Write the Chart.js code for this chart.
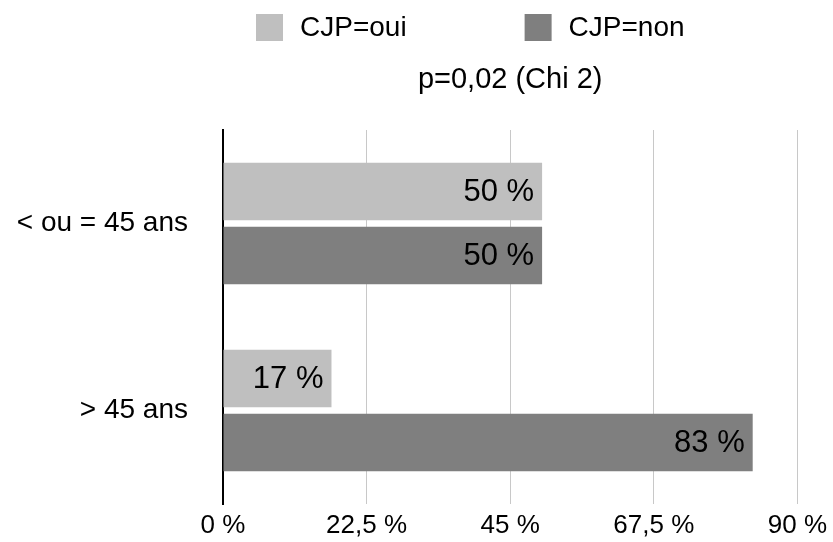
<!DOCTYPE html>
<html>
<head>
<meta charset="utf-8">
<script src="https://cdn.jsdelivr.net/npm/chart.js@4"></script>
<style>
  html, body { margin: 0; padding: 0; background: #fff; }
  #wrap { width: 833px; height: 542px; }
</style>
</head>
<body>
<div id="wrap"><canvas id="chart"></canvas></div>
<script>
const categories = ['< ou = 45 ans', '> 45 ans'];
const seriesNames = ['CJP=oui', 'CJP=non'];
const cjpOui = [50, 17];
const cjpNon = [50, 83];
const tickLabels = ['0 %', '22,5 %', '45 %', '67,5 %', '90 %'];
const subtitle = 'p=0,02 (Chi 2)';

const FONT = '"Liberation Sans", Arial, Helvetica, sans-serif';
const COLORS = ['#bfbfbf', '#7f7f7f'];

// legend drawn by hand so the two items sit where the original has them
const legendPlugin = {
  id: 'legendBoxes',
  afterDraw(chart) {
    const ctx = chart.ctx;
    let x = 256;
    const y = 28;
    ctx.save();
    ctx.font = '28px ' + FONT;
    ctx.textBaseline = 'middle';
    ctx.textAlign = 'left';
    chart.data.datasets.forEach((ds) => {
      ctx.fillStyle = ds.backgroundColor;
      ctx.fillRect(x, y - 14, 27, 27);
      ctx.fillStyle = '#000';
      ctx.fillText(ds.label, x + 44, y);
      x += 44 + ctx.measureText(ds.label).width + 118;
    });
    ctx.restore();
  }
};

// value labels inside the end of every bar
const barLabels = {
  id: 'barLabels',
  afterDatasetsDraw(chart) {
    const ctx = chart.ctx;
    ctx.save();
    ctx.font = '31px ' + FONT;
    ctx.fillStyle = '#000';
    ctx.textAlign = 'right';
    ctx.textBaseline = 'middle';
    chart.data.datasets.forEach((ds, i) => {
      chart.getDatasetMeta(i).data.forEach((bar, j) => {
        ctx.fillText(ds.data[j] + ' %', bar.x - 8, bar.y + 1);
      });
    });
    ctx.restore();
  }
};

new Chart(document.getElementById('chart'), {
  type: 'bar',
  data: {
    labels: categories,
    datasets: [
      { label: seriesNames[0], data: cjpOui, backgroundColor: COLORS[0] },
      { label: seriesNames[1], data: cjpNon, backgroundColor: COLORS[1] },
    ],
  },
  options: {
    indexAxis: 'y',
    responsive: true,
    maintainAspectRatio: false,
    animation: false,
    categoryPercentage: 0.684,
    barPercentage: 0.9,
    layout: { padding: { left: 0, right: 34, top: 63, bottom: 0 } },
    plugins: {
      legend: { display: false },
      tooltip: { enabled: false },
    },
    scales: {
      x: {
        min: 0,
        max: 90,
        ticks: {
          stepSize: 22.5,
          color: '#000',
          padding: 6,
          font: { family: FONT, size: 26 },
          maxRotation: 0,
          callback: (v, i) => tickLabels[i],
        },
        grid: { color: '#c8c8c8', lineWidth: 1, drawTicks: false },
        border: { display: false },
        afterFit: (scale) => { scale.height = 38; },
      },
      // top axis only carries the subtitle, centred over the plot
      x2: {
        type: 'linear',
        position: 'top',
        ticks: { display: false },
        grid: { display: false, drawTicks: false },
        border: { display: false },
        title: {
          display: true,
          text: subtitle,
          color: '#000',
          font: { family: FONT, size: 29 },
          padding: { top: 0, bottom: 32 },
        },
        afterFit: (scale) => { scale.height = 67; },
      },
      y: {
        ticks: {
          color: '#000',
          padding: 2,
          font: { family: FONT, size: 28 },
        },
        // hidden tick marks only push the labels away from the axis line
        grid: { display: false, drawTicks: true, tickLength: 33 },
        border: { display: true, color: '#000', width: 2 },
        afterFit: (scale) => { scale.width = 223; },
      },
    },
  },
  plugins: [legendPlugin, barLabels],
});
</script>
</body>
</html>
